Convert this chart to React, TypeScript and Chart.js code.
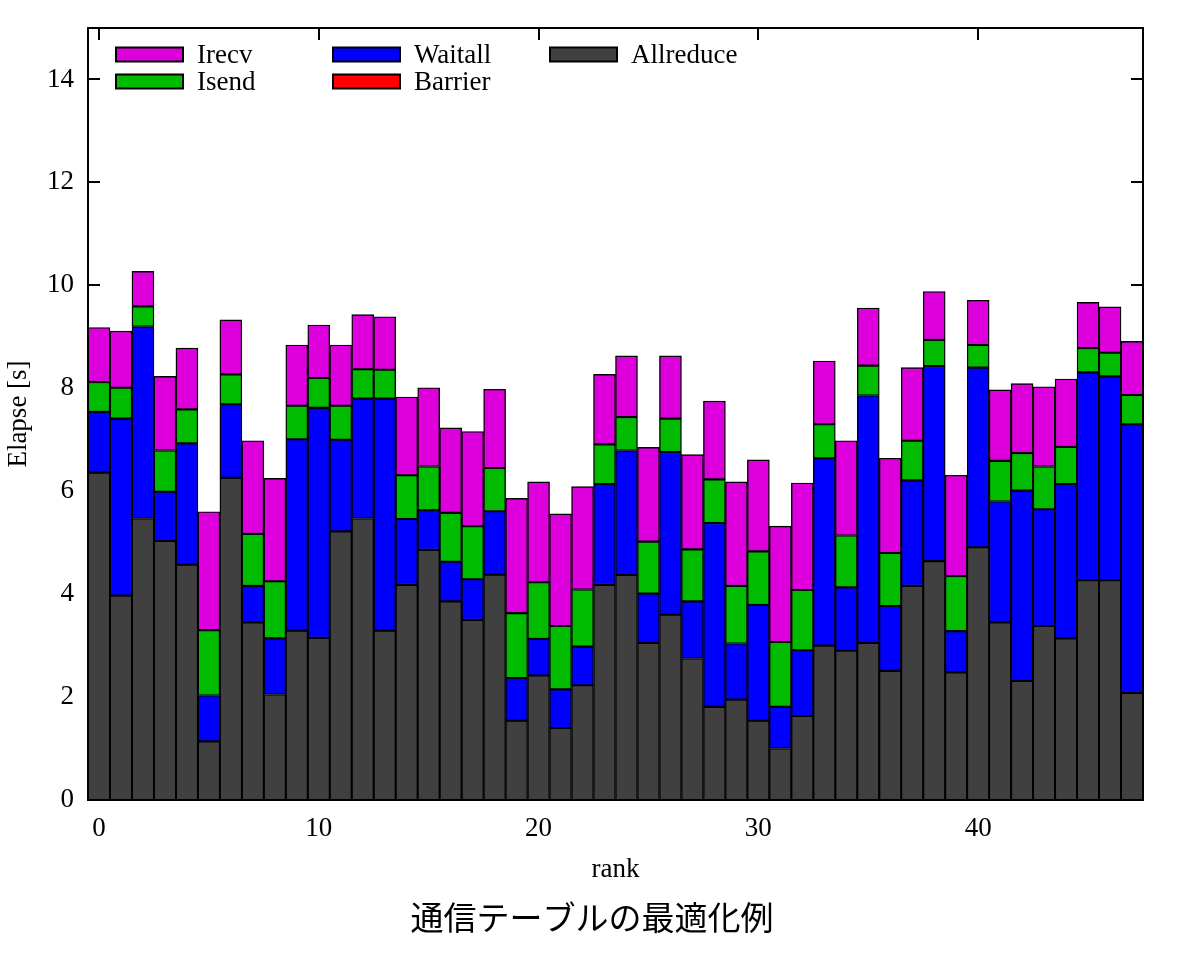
import React, { useEffect, useRef } from "react";
import { Chart, registerables } from "chart.js";

Chart.register(...registerables);

const ranks = [
  "0", "1", "2", "3", "4", "5", "6", "7", "8", "9",
  "10", "11", "12", "13", "14", "15", "16", "17", "18", "19",
  "20", "21", "22", "23", "24", "25", "26", "27", "28", "29",
  "30", "31", "32", "33", "34", "35", "36", "37", "38", "39",
  "40", "41", "42", "43", "44", "45", "46", "47",
];

const allreduce = [
  6.36, 3.97, 5.47, 5.03, 4.57, 1.14, 6.26, 3.45, 2.05, 3.29,
  3.15, 5.22, 5.47, 3.29, 4.18, 4.86, 3.86, 3.5, 4.38, 1.54,
  2.42, 1.4, 2.23, 4.18, 4.37, 3.05, 3.6, 2.75, 1.81, 1.95,
  1.54, 1.0, 1.63, 3.0, 2.9, 3.05, 2.51, 4.16, 4.64, 2.48,
  4.91, 3.45, 2.31, 3.38, 3.14, 4.27, 4.27, 2.08,
];

const barrier = [
  0, 0, 0, 0, 0, 0, 0, 0, 0, 0,
  0, 0, 0, 0, 0, 0, 0, 0, 0, 0,
  0, 0, 0, 0, 0, 0, 0, 0, 0, 0,
  0, 0, 0, 0, 0, 0, 0, 0, 0, 0,
  0, 0, 0, 0, 0, 0, 0, 0,
];

const waitall = [
  1.18, 3.44, 3.73, 0.96, 2.36, 0.89, 1.43, 0.71, 1.09, 3.72,
  4.47, 1.78, 2.33, 4.51, 1.28, 0.77, 0.77, 0.79, 1.23, 0.83,
  0.71, 0.75, 0.75, 1.96, 2.42, 0.96, 3.16, 1.11, 3.57, 1.09,
  2.25, 0.81, 1.28, 3.64, 1.23, 4.81, 1.26, 2.05, 3.79, 0.8,
  3.49, 2.35, 3.7, 2.27, 3.0, 4.04, 3.96, 5.22,
];

const isend = [
  0.58, 0.6, 0.39, 0.8, 0.66, 1.27, 0.58, 1.01, 1.11, 0.65,
  0.58, 0.66, 0.57, 0.56, 0.85, 0.85, 0.95, 1.03, 0.84, 1.26,
  1.1, 1.23, 1.11, 0.77, 0.65, 1.01, 0.65, 1.01, 0.85, 1.12,
  1.04, 1.26, 1.17, 0.66, 1.01, 0.58, 1.03, 0.77, 0.51, 1.07,
  0.44, 0.79, 0.73, 0.83, 0.72, 0.47, 0.46, 0.57,
];

const irecv = [
  1.06, 1.1, 0.68, 1.44, 1.19, 2.3, 1.06, 1.81, 2.0, 1.18,
  1.03, 1.18, 1.06, 1.03, 1.52, 1.53, 1.65, 1.84, 1.53, 2.23,
  1.95, 2.18, 2.0, 1.36, 1.19, 1.83, 1.22, 1.84, 1.52, 2.02,
  1.78, 2.25, 2.08, 1.23, 1.84, 1.12, 1.84, 1.42, 0.94, 1.96,
  0.87, 1.38, 1.35, 1.55, 1.32, 0.89, 0.89, 1.04,
];

const xTickLabels = ["0", "10", "20", "30", "40"];
const yTickValues = [0, 2, 4, 6, 8, 10, 12, 14];
const legendColumns = [["Irecv", "Isend"], ["Waitall", "Barrier"], ["Allreduce"]];

const xTitle = "rank";
const yTitle = "Elapse [s]";
const chartTitle = "通信テーブルの最適化例";

const SERIF = '"Liberation Serif", "Times New Roman", serif';
const FONT_SIZE = 27;

const gnuplotLook = {
  id: "gnuplotLook",
  beforeDatasetsDraw(chart: any) {
    const { ctx, chartArea, scales } = chart;
    const { left, right, bottom } = chartArea;
    ctx.save();
    ctx.strokeStyle = "#000";
    ctx.lineWidth = 2;
    ctx.beginPath();
    for (const v of yTickValues) {
      const py = Math.round(scales.y.getPixelForValue(v));
      ctx.moveTo(left, py);
      ctx.lineTo(left + 12, py);
      ctx.moveTo(right, py);
      ctx.lineTo(right - 12, py);
    }
    for (const lbl of xTickLabels) {
      const px = Math.round(scales.x.getPixelForValue(ranks.indexOf(lbl)));
      ctx.moveTo(px, bottom);
      ctx.lineTo(px, bottom - 12);
    }
    ctx.stroke();
    ctx.restore();
  },
  afterDatasetsDraw(chart: any) {
    const { ctx, chartArea, scales } = chart;
    const { left, right, top, bottom } = chartArea;
    ctx.save();
    ctx.strokeStyle = "#000";
    ctx.lineWidth = 2;
    ctx.beginPath();
    for (const lbl of xTickLabels) {
      const px = Math.round(scales.x.getPixelForValue(ranks.indexOf(lbl)));
      ctx.moveTo(px, top);
      ctx.lineTo(px, top + 12);
    }
    ctx.stroke();
    ctx.strokeRect(left, top, right - left, bottom - top);

    // legend
    const colX = [116, 333, 550];
    const rowY = [54.5, 81.5];
    ctx.font = `${FONT_SIZE}px ${SERIF}`;
    ctx.textAlign = "left";
    ctx.textBaseline = "middle";
    legendColumns.forEach((col, ci) => {
      col.forEach((label, ri) => {
        const ds = chart.data.datasets.find((d: any) => d.label === label);
        const bx = colX[ci];
        const by = rowY[ri] - 7;
        ctx.fillStyle = ds.backgroundColor;
        ctx.fillRect(bx, by, 67, 14);
        ctx.lineWidth = 2;
        ctx.strokeStyle = "#000";
        ctx.strokeRect(bx, by, 67, 14);
        ctx.fillStyle = "#000";
        ctx.fillText(label, bx + 81, rowY[ri] + 1);
      });
    });

    // axis titles
    ctx.fillStyle = "#000";
    ctx.font = `${FONT_SIZE}px ${SERIF}`;
    ctx.textAlign = "center";
    ctx.textBaseline = "alphabetic";
    ctx.fillText(xTitle, (left + right) / 2, 877);

    ctx.save();
    ctx.translate(19, (top + bottom) / 2);
    ctx.rotate(-Math.PI / 2);
    ctx.textBaseline = "middle";
    ctx.fillText(yTitle, 0, 0);
    ctx.restore();

    // chart title
    ctx.font = '33px "Noto Sans CJK JP", "Noto Sans", sans-serif';
    ctx.textAlign = "center";
    ctx.textBaseline = "middle";
    ctx.fillText(chartTitle, chart.width / 2, 917);
    ctx.restore();
  },
};

export default function App() {
  const canvasRef = useRef<HTMLCanvasElement | null>(null);

  useEffect(() => {
    if (!canvasRef.current) return;
    const common = {
      borderColor: "#000000",
      borderWidth: 1.4,
      borderSkipped: false,
      barPercentage: 1,
      categoryPercentage: 1,
    };
    const chart = new Chart(canvasRef.current, {
      type: "bar",
      data: {
        labels: ranks,
        datasets: [
          { label: "Allreduce", data: allreduce, backgroundColor: "#404040", ...common },
          { label: "Barrier", data: barrier, backgroundColor: "#ff0000", ...common },
          { label: "Waitall", data: waitall, backgroundColor: "#0000ff", ...common },
          { label: "Isend", data: isend, backgroundColor: "#00bb00", ...common },
          { label: "Irecv", data: irecv, backgroundColor: "#dd00dd", ...common },
        ],
      },
      options: {
        animation: false,
        responsive: false,
        maintainAspectRatio: false,
        layout: { padding: { left: 0, right: 41, top: 28, bottom: 0 } },
        plugins: {
          legend: { display: false },
          tooltip: { enabled: false },
          title: { display: false },
        },
        scales: {
          x: {
            type: "category",
            stacked: true,
            offset: true,
            grid: { display: false, drawTicks: false },
            border: { display: false },
            ticks: {
              font: { family: SERIF, size: FONT_SIZE },
              color: "#000",
              padding: 13,
              maxRotation: 0,
              autoSkip: false,
            },
            afterBuildTicks: (s: any) => {
              s.ticks = xTickLabels.map((l) => ({ value: ranks.indexOf(l) }));
            },
            afterFit: (s: any) => {
              s.height = 156;
              s.paddingLeft = 0;
              s.paddingRight = 0;
            },
          },
          y: {
            stacked: true,
            min: 0,
            max: 15,
            grid: { display: false, drawTicks: false },
            border: { display: false },
            ticks: {
              font: { family: SERIF, size: FONT_SIZE },
              color: "#000",
              padding: 14,
            },
            afterBuildTicks: (s: any) => {
              s.ticks = yTickValues.map((v) => ({ value: v }));
            },
            afterFit: (s: any) => {
              s.width = 88;
              s.paddingTop = 0;
              s.paddingBottom = 0;
            },
          },
        },
      } as any,
      plugins: [gnuplotLook],
    });
    return () => chart.destroy();
  }, []);

  return (
    <div style={{ position: "absolute", left: 0, top: 0, width: 1184, height: 956, background: "#fff" }}>
      <canvas ref={canvasRef} width={1184} height={956} />
    </div>
  );
}
